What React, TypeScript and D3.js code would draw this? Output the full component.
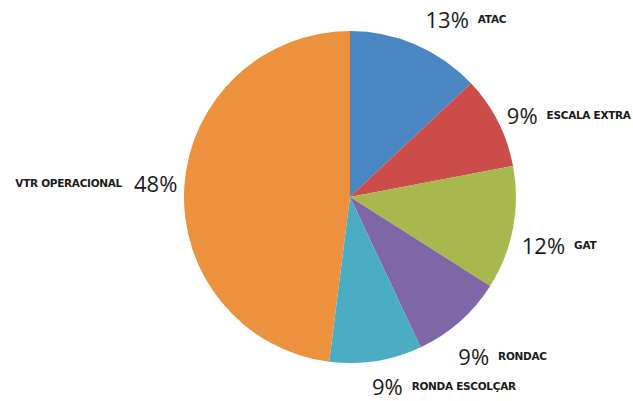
import React from 'react';
import * as d3 from 'd3';

// slices clockwise from 12 o'clock
const categories = ['ATAC', 'ESCALA EXTRA', 'GAT', 'RONDAC', 'RONDA ESCOLÇAR', 'VTR OPERACIONAL'];
const shares = [13, 9, 12, 9, 9, 48];
const colors = ['#4a86c1', '#cc4c4a', '#a8b84e', '#7f66a6', '#4aadc3', '#ec913e'];

// small nudges so the labels sit where the original put them
const labelNudge: Array<[number, number]> = [
    [2, -8],
    [-8, 2],
    [-10, 13],
    [-14, 20],
    [-7, 6],
    [12, -2],
];

const W = 633;
const H = 401;
const cx = 350;
const cy = 197;
const radius = 166;

export default function App() {
    const data = categories.map((label, i) => ({ label, value: shares[i], color: colors[i] }));

    const pie = d3.pie<any>()
        .value(d => d.value)
        .sort(null);

    const arc = d3.arc<any>()
        .innerRadius(0)
        .outerRadius(radius);

    const labelArc = d3.arc<any>()
        .innerRadius(185)
        .outerRadius(185);

    const arcs = pie(data);

    return (
        <svg
            width={W}
            height={H}
            viewBox={`0 0 ${W} ${H}`}
            style={{ position: 'absolute', left: 0, top: 0, background: '#fff' }}
        >
            <g transform={`translate(${cx}, ${cy})`}>
                {arcs.map((d, i) => (
                    <path key={i} d={arc(d) as string} fill={d.data.color} />
                ))}
            </g>

            {/* Labels */}
            {arcs.map((d, i) => {
                const mid = (d.startAngle + d.endAngle) / 2;
                const [lx, ly] = labelArc.centroid(d);
                const x = cx + lx + labelNudge[i][0];
                const y = cy + ly + labelNudge[i][1];
                const leftSide = mid > Math.PI;
                const pct = `${d.data.value}%`;
                return (
                    <text
                        key={i}
                        x={x}
                        y={y}
                        dominantBaseline="central"
                        textAnchor={leftSide ? 'end' : 'start'}
                        fill="#1a1a1a"
                    >
                        {leftSide ? (
                            <>
                                <tspan fontFamily="DejaVu Sans" fontWeight="bold" fontSize={10.5} letterSpacing={-0.3}>
                                    {d.data.label}
                                </tspan>
                                <tspan dx={12} fontFamily="Open Sans" fontSize={22}>{pct}</tspan>
                            </>
                        ) : (
                            <>
                                <tspan fontFamily="Open Sans" fontSize={22}>{pct}</tspan>
                                <tspan dx={9} fontFamily="DejaVu Sans" fontWeight="bold" fontSize={10.5} letterSpacing={-0.3}>
                                    {d.data.label}
                                </tspan>
                            </>
                        )}
                    </text>
                );
            })}
        </svg>
    );
}
